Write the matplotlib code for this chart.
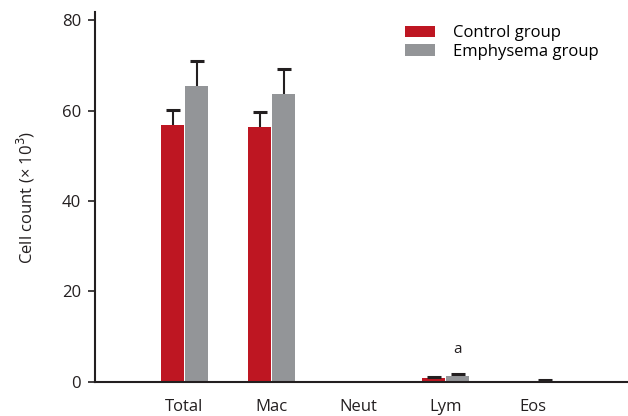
import numpy as np
import matplotlib.pyplot as plt

plt.rcParams['font.family'] = ['Open Sans', 'DejaVu Sans']

categories = ["Total", "Mac", "Neut", "Lym", "Eos"]
control = [56.8, 56.4, 0.0, 0.8, 0.1]
control_err = [3.4, 3.4, 0.0, 0.3, 0.0]
emphysema = [65.4, 63.6, 0.0, 1.3, 0.3]
emphysema_err = [5.5, 5.6, 0.0, 0.4, 0.2]

red = "#BE1622"
gray = "#939598"
dark = "#231F20"

fig = plt.figure(figsize=(6.28, 4.16), dpi=100)
ax = fig.add_axes([0.151, 0.082, 0.849, 0.889])

x = np.arange(len(categories))
w = 0.265
off = w / 2 + 0.005


def draw_group(pos, vals, errs, color, label):
    vals = np.array(vals)
    errs = np.array(errs)
    ax.bar(pos, vals, w, color=color, label=label)
    ax.errorbar(pos, vals, yerr=[np.zeros(len(vals)), errs], fmt="none",
                ecolor=dark, elinewidth=1.5, capsize=0)
    m = (errs > 0) | (vals > 0.2)
    ax.plot(pos[m], (vals + errs)[m], linestyle="none", marker="_",
            markersize=10, markeredgewidth=2.2, color=dark)


draw_group(x - off, control, control_err, red, "Control group")
draw_group(x + off, emphysema, emphysema_err, gray, "Emphysema group")

ax.text(3 + off, 5.5, "a", ha="center", va="bottom", fontsize=11, color=dark)

ax.set_xlim(-1.03, 5.09)
ax.set_ylim(0, 81.8)
ax.set_yticks([0, 20, 40, 60, 80])
ax.set_xticks(x)
ax.set_xticklabels(categories)
ax.tick_params(axis="x", length=0, labelsize=12, colors=dark, pad=12)
ax.tick_params(axis="y", length=5, width=1.2, labelsize=12, colors=dark, pad=5)
ax.set_ylabel("Cell count (× 10$^3$)", fontsize=12, color=dark, labelpad=18)

for s in ["top", "right"]:
    ax.spines[s].set_visible(False)
for s in ["left", "bottom"]:
    ax.spines[s].set_linewidth(1.5)
    ax.spines[s].set_color(dark)

ax.legend(loc="upper right", bbox_to_anchor=(0.973, 1.005), frameon=False, fontsize=12,
          handlelength=1.8, handleheight=0.7, handletextpad=1.1, labelspacing=0.15)

fig.savefig("out.png", dpi=100)
